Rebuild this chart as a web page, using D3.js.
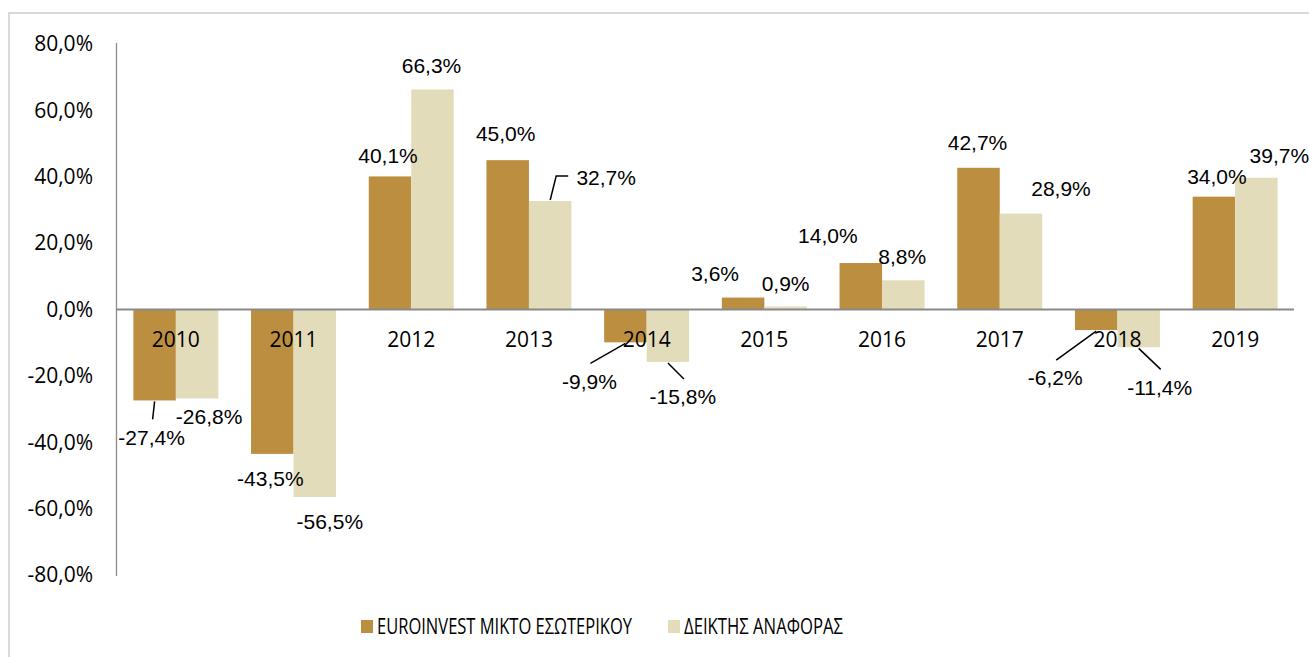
<!doctype html>
<html>
<head>
	<meta charset="utf-8">
	<title>EUROINVEST</title>
	<script src="https://d3js.org/d3.v7.min.js"></script>
</head>
<style>
	body { margin:0; background-color:white; }
	svg { display:block; }
	.ytick, .cat, .legtext { font-family:'Open Sans', 'Noto Sans', sans-serif; fill:#000; }
	.lbl { font-family:'Liberation Sans', Arial, sans-serif; font-size:21px; fill:#000; }
</style>
<body>
<script>

	var years = ["2010","2011","2012","2013","2014","2015","2016","2017","2018","2019"]
	var fund  = [-27.4,-43.5,40.1,45.0,-9.9,3.6,14.0,42.7,-6.2,34.0]
	var index = [-26.8,-56.5,66.3,32.7,-15.8,0.9,8.8,28.9,-11.4,39.7]
	var seriesNames = ["EUROINVEST ΜΙΚΤΟ ΕΣΩΤΕΡΙΚΟΥ","ΔΕΙΚΤΗΣ ΑΝΑΦΟΡΑΣ"]
	var yTicks = [80,60,40,20,0,-20,-40,-60,-80]

	// label nudges (px) from the bar end, as placed in the original chart
	var fundNudge  = [[-3,37],[-2,25],[-2,-21],[-2,-27],[-36,39],[-28,-24],[-33,-27],[-1,-25],[-41,48],[3,-20]]
	var indexNudge = [[12,18],[15,25],[-1,-24],[56,-23],[15,35],[0,-23],[-1,-24],[40,-25],[21,40],[23,-22]]
	var fundLeader  = [true,false,false,false,true,false,false,false,true,false]
	var indexLeader = [false,false,false,true,true,false,false,false,true,false]

	var gold = '#BC8E40'
	var cream = '#E3DCBB'

	var width = 1309
	var height = 657

	var svg = d3.select("body").append("svg")
		.attr("width", width)
		.attr("height", height);

	// outer frame
	svg.append("rect")
		.attr("x", 9).attr("y", 13)
		.attr("width", 1400).attr("height", 700)
		.attr("fill", "white")
		.attr("stroke", "#D9D9D9")
		.attr("stroke-width", 2);

	var y = d3.scaleLinear().domain([-80, 80]).range([575, 44]);
	var x0 = d3.scaleBand().domain(years).range([117, 1294]).paddingInner(0.278).paddingOuter(0.139);
	var x1 = d3.scaleBand().domain([0, 1]).range([0, x0.bandwidth()]);

	var fmt = function(v) { return v.toFixed(1).replace(".", ",") + "%"; };

	// y tick labels
	svg.selectAll(".ytick")
		.data(yTicks)
		.enter().append("text")
			.attr("class", "ytick")
			.attr("x", 93)
			.attr("y", function(d) { return y(d); })
			.attr("dy", "0.35em")
			.attr("text-anchor", "end")
			.style("font-size", "21px")
			.text(fmt);

	var rows = years.map(function(yr, i) {
		return [
			{yr:yr, s:0, v:fund[i], n:fundNudge[i], lead:fundLeader[i]},
			{yr:yr, s:1, v:index[i], n:indexNudge[i], lead:indexLeader[i]}
		];
	});
	var flat = [].concat.apply([], rows);

	var bx = function(d) { return x0(d.yr) + x1(d.s); };
	var cx = function(d) { return bx(d) + x1.bandwidth() / 2; };

	svg.selectAll(".bar")
		.data(flat)
		.enter().append("rect")
			.attr("class", "bar")
			.attr("x", bx)
			.attr("width", x1.bandwidth())
			.attr("y", function(d) { return y(Math.max(0, d.v)); })
			.attr("height", function(d) { return Math.abs(y(d.v) - y(0)); })
			.attr("fill", function(d) { return d.s == 0 ? gold : cream; });

	// axes lines
	svg.append("line")
		.attr("x1", 116.5).attr("x2", 116.5)
		.attr("y1", 43).attr("y2", 576)
		.attr("stroke", "#8C8C8C").attr("stroke-width", 1.3);
	svg.append("line")
		.attr("x1", 116).attr("x2", 1294)
		.attr("y1", y(0)).attr("y2", y(0))
		.attr("stroke", "#898989").attr("stroke-width", 2);

	// category labels
	svg.selectAll(".cat")
		.data(years)
		.enter().append("text")
			.attr("class", "cat")
			.attr("x", function(d) { return x0(d) + x0.bandwidth() / 2; })
			.attr("y", 340)
			.attr("dy", "0.35em")
			.attr("text-anchor", "middle")
			.style("font-size", "21px")
			.text(function(d) { return d; });

	// leader lines
	var lx = function(d) { return cx(d) + d.n[0]; };
	var ly = function(d) { return y(d.v) + d.n[1]; };

	svg.selectAll(".leader")
		.data(flat.filter(function(d) { return d.lead; }))
		.enter().append("path")
			.attr("class", "leader")
			.attr("fill", "none")
			.attr("stroke", "#000")
			.attr("stroke-width", 1.5)
			.attr("d", function(d) {
				var sx = cx(d), sy = y(d.v) + (d.v < 0 ? 1 : -1);
				if (d.v > 0) {
					// elbow to the side of the label
					var ex = lx(d) - 38;
					return "M" + sx + "," + sy + "L" + (sx + 6) + "," + (ly(d) - 2) + "L" + ex + "," + (ly(d) - 2);
				}
				return "M" + sx + "," + sy + "L" + (lx(d) + 1) + "," + (ly(d) - 18);
			});

	// value labels
	svg.selectAll(".lbl")
		.data(flat)
		.enter().append("text")
			.attr("class", "lbl")
			.attr("x", lx)
			.attr("y", ly)
			.attr("dy", "0.35em")
			.attr("text-anchor", "middle")
			.text(function(d) { return fmt(d.v); });

	// legend
	var legX = [361, 668];
	var legW = [255, 159];
	var leg = svg.selectAll(".leg")
		.data(seriesNames)
		.enter().append("g")
			.attr("class", "leg")
			.attr("transform", function(d, i) { return "translate(" + legX[i] + ",620)"; });
	leg.append("rect")
		.attr("width", 12).attr("height", 13)
		.attr("fill", function(d, i) { return i == 0 ? gold : cream; });
	leg.append("text")
		.attr("class", "legtext")
		.attr("x", 16)
		.attr("y", 14)
		.style("font-size", "21px")
		.attr("textLength", function(d, i) { return legW[i]; })
		.attr("lengthAdjust", "spacingAndGlyphs")
		.text(function(d) { return d; });

</script>
</body>
</html>
